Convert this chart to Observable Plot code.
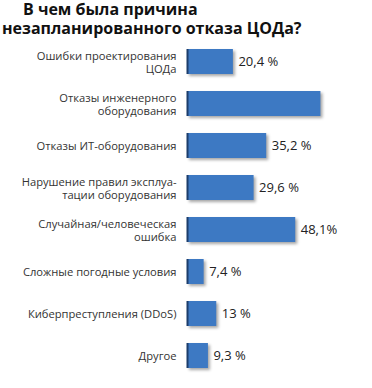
<!DOCTYPE html>
<html>
<head>
<meta charset="utf-8">
<script src="https://cdn.jsdelivr.net/npm/d3@7"></script>
<script src="https://cdn.jsdelivr.net/npm/@observablehq/plot@0.6"></script>
<style>
  body { margin: 0; background: #fff; width: 372px; height: 388px; overflow: hidden; }
  .t { font-family: "Open Sans", sans-serif; font-weight: 700; font-size: 16px; color: #111; line-height: 18.5px; white-space: nowrap; }
  #chart svg g[aria-label="bar"] rect { filter: drop-shadow(2px 2px 1.5px rgba(0,0,0,0.35)); }
</style>
</head>
<body>
<div style="height:39px; box-sizing:border-box; padding-top:0px;">
  <div class="t" style="padding-left:23px;">В чем была причина</div>
  <div class="t" style="padding-left:2px;">незапланированного отказа ЦОДа?</div>
</div>
<div id="chart"></div>
<script>
const categories = [
  "Ошибки проектирования\nЦОДа",
  "Отказы инженерного\nоборудования",
  "Отказы ИТ-оборудования",
  "Нарушение правил эксплуа-\nтации оборудования",
  "Случайная/человеческая\nошибка",
  "Сложные погодные условия",
  "Киберпреступления (DDoS)",
  "Другое"
];
const values = [20.4, 59.3, 35.2, 29.6, 48.1, 7.4, 13, 9.3];
const valueLabels = ["20,4 %", "", "35,2 %", "29,6 %", "48,1%", "7,4 %", "13 %", "9,3 %"];

const data = categories.map((c, i) => ({cat: c, value: values[i], label: valueLabels[i]}));

const plot = Plot.plot({
  width: 372,
  height: 349,
  marginTop: 1,
  marginBottom: 12,
  marginLeft: 187,
  marginRight: 50,
  style: {fontFamily: "Open Sans, sans-serif", background: "transparent"},
  x: {domain: [0, 60], axis: null},
  y: {domain: categories, axis: null, paddingInner: 0.41, paddingOuter: 0.2},
  marks: [
    Plot.barX(data, {x: "value", y: "cat", fill: "#3d79c3"}),
    Plot.tickX(data, {x: 0, y: "cat", stroke: "#1c3d6b", strokeWidth: 2}),
    Plot.text(data, {x: 0, y: "cat", text: "cat", textAnchor: "end", dx: -11, fontSize: 11.2, lineHeight: 1.15, fill: "#333"}),
    Plot.text(data, {x: "value", y: "cat", text: "label", textAnchor: "start", dx: 5, fontSize: 13, fill: "#222"})
  ]
});
document.getElementById("chart").appendChild(plot);
</script>
</body>
</html>
